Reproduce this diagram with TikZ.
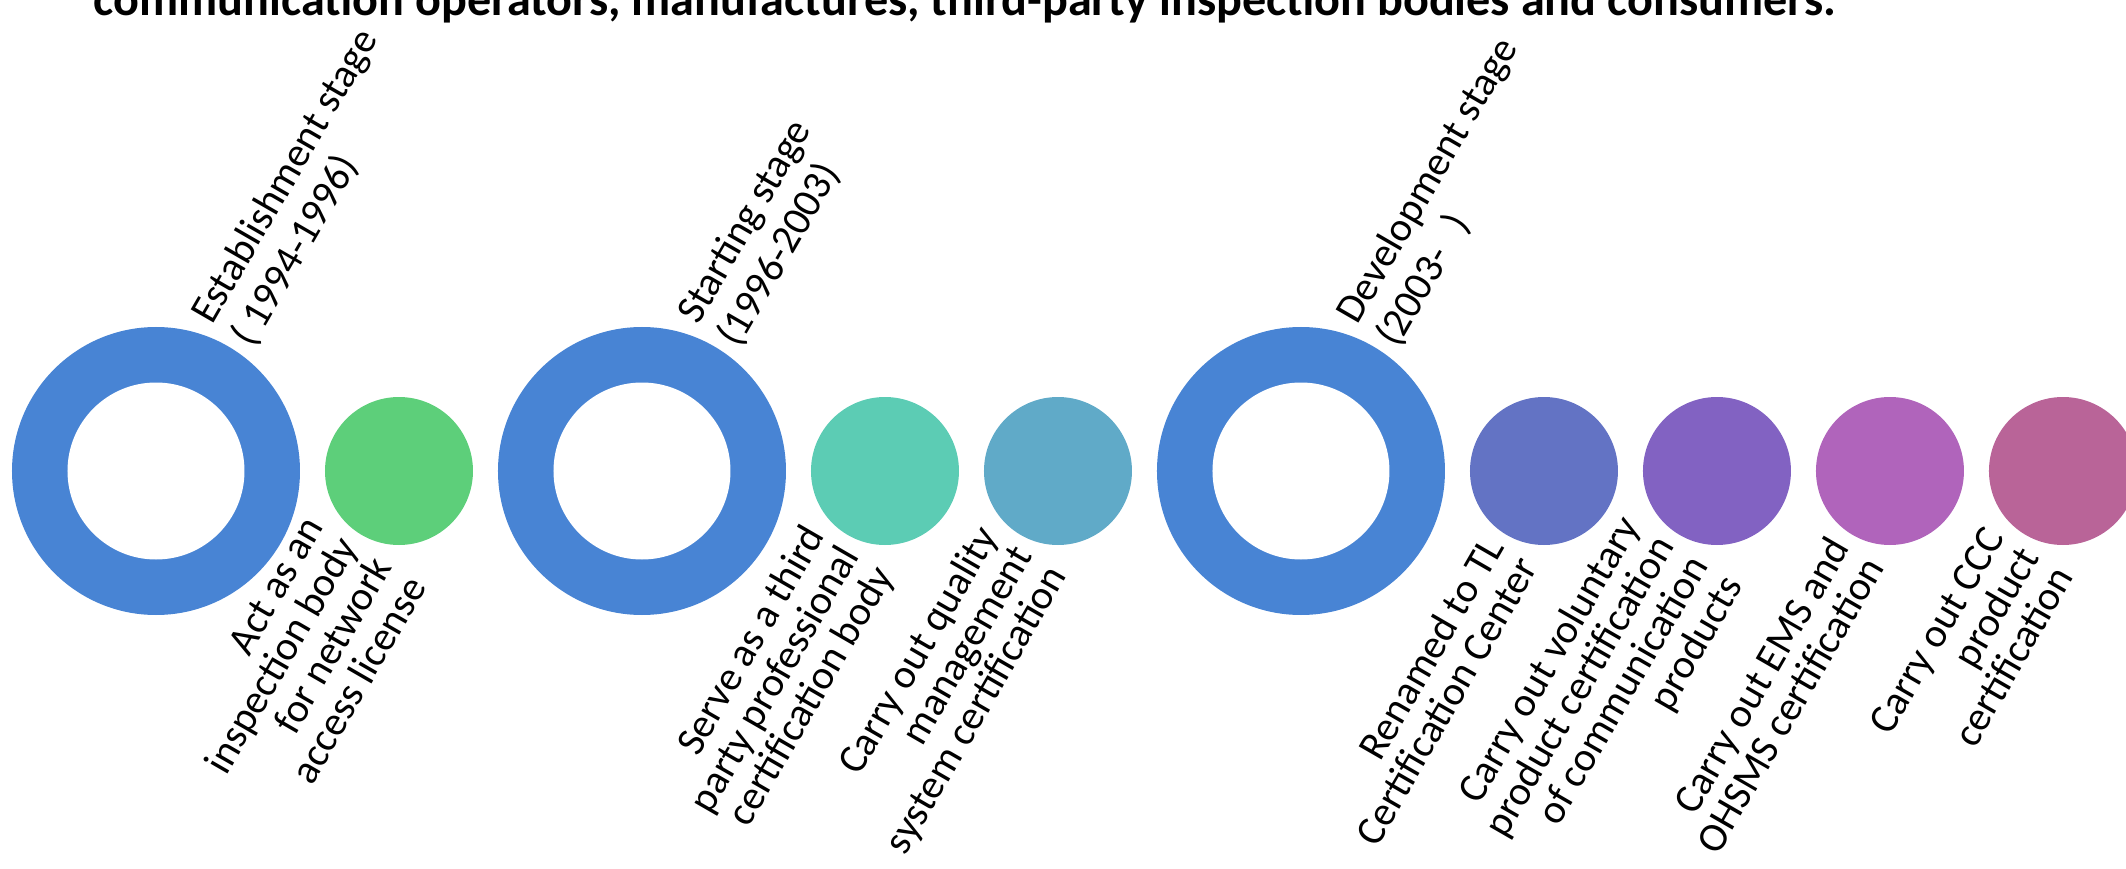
\documentclass[tikz,border=0pt]{standalone}
\usepackage{fontspec}
\setmainfont{Carlito}
\usetikzlibrary{calc,matrix,positioning}
\definecolor{ringblue}{HTML}{4884D4}
\definecolor{dotA}{HTML}{5DCF7A}
\definecolor{dotB}{HTML}{5CCCB4}
\definecolor{dotC}{HTML}{60AAC8}
\definecolor{dotD}{HTML}{6373C4}
\definecolor{dotE}{HTML}{8262C2}
\definecolor{dotF}{HTML}{B064BB}
\definecolor{dotG}{HTML}{B96498}
\newcommand\stagefont{\fontsize{11.66pt}{13.1pt}\selectfont}
\newcommand\taskfont{\fontsize{11.66pt}{11.3pt}\selectfont\lineskiplimit=-20pt}
\tikzset{ring/.style={circle,fill=ringblue,minimum size=2.88cm,
    path picture={\fill[white] (path picture bounding box.center) circle (0.885cm);}},
    dot/.style={circle,minimum size=1.48cm,fill=#1},
    stagelabel/.style={rotate=60,anchor=west,align=left,inner sep=0pt,font=\stagefont},
    tasklabel/.style={rotate=60,anchor=east,align=right,inner sep=0pt,font=\taskfont}}

\begin{document}
\begin{tikzpicture}[titlefont/.style={font=\fontsize{13.7pt}{16pt}\selectfont\bfseries}]
        \useasboundingbox (0,0) rectangle (21.26,-8.69);

        \node[titlefont, anchor=base west, inner sep=0pt] (title) at (0.93,-0.16)
            {communication operators, manufactures, third-party inspection bodies and consumers.};

        \matrix (m) [
            matrix of nodes,
            nodes in empty cells,
            column sep=0.25cm,
            inner sep=0pt, outer sep=0pt,
            nodes={circle, inner sep=0pt, outer sep=0pt},
            anchor=west
        ] at (0.12,-4.71)
        { |[ring]| & |[dot=dotA]| & |[ring]| & |[dot=dotB]| & |[dot=dotC]|
          & |[ring]| & |[dot=dotD]| & |[dot=dotE]| & |[dot=dotF]| & |[dot=dotG]| \\
        };

        \node[stagelabel] (s1) at ([xshift=6.66mm,yshift=-0.53mm]m-1-1.north) {Establishment stage\\( 1994-1996)};
        \node[stagelabel] (s2) at ([xshift=6.66mm,yshift=-0.53mm]m-1-3.north) {Starting stage\\(1996-2003)};
        \node[stagelabel] (s3) at ([xshift=6.66mm,yshift=-0.53mm]m-1-6.north) {Development stage\\(2003-\hspace{0.6em})};

        \foreach \i/\txt in {2/{Act as an\\inspection body\\for network\\access license},
                4/{Serve as a third\\party professional\\certification body},
                5/{Carry out quality\\management\\system certification},
                7/{Renamed to TL\\Certification Center},
                8/{Carry out voluntary\\product certification\\of communication\\products},
                9/{Carry out EMS and\\OHSMS certification},
                10/{Carry out CCC\\product\\certification}}
            \node[tasklabel] (t\i) at ([xshift=-3.4mm,yshift=-0.5mm]m-1-\i.south) {\txt};
\end{tikzpicture}
\end{document}
